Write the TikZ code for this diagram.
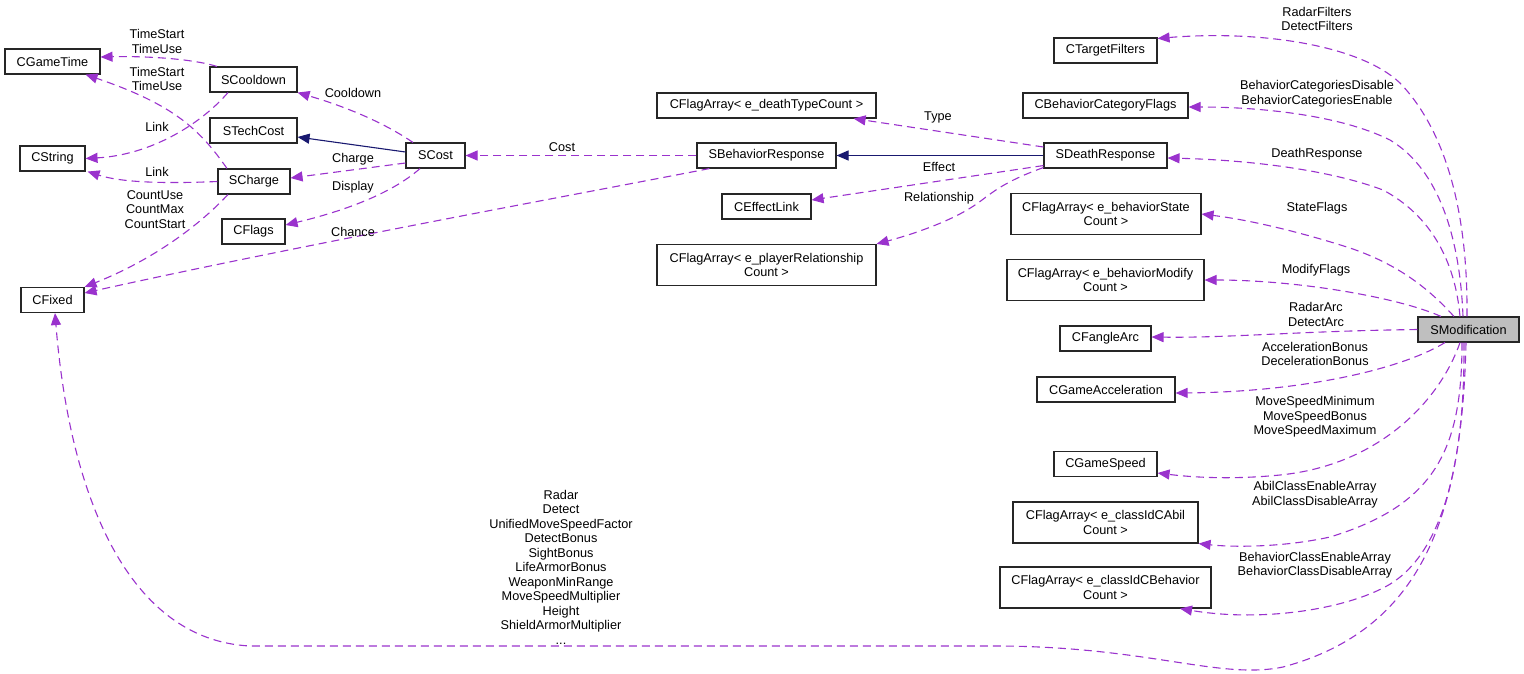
\documentclass[tikz,border=0pt]{standalone}
\usepackage{fontspec}
\setmainfont{Liberation Sans}
\usetikzlibrary{arrows.meta}
\definecolor{dorchid}{HTML}{9A32CD}
\definecolor{midblue}{HTML}{191970}
\newcommand{\dxfont}{\fontsize{12.7}{14.5}\selectfont}

\begin{document}
\begin{tikzpicture}[x=1pt, y=-1pt,
  cls/.style={draw=black!85, line width=1.1pt, minimum height=25pt, inner sep=1pt, align=center, font=\dxfont},
  cls2/.style={cls, minimum height=41pt},
  lbl/.style={inner sep=0pt, align=center, font=\dxfont},
  dep/.style={draw=dorchid, line width=1.1pt, dash pattern=on 8pt off 5pt, -{Triangle[length=12pt,width=10pt]}},
  inh/.style={draw=midblue, line width=1.1pt, -{Triangle[length=12pt,width=10pt]}}]
  \useasboundingbox (0,0) rectangle (1524,673);
  % left group
  \node[cls, minimum width=95pt] (gametime) at (52.5,61.5) {CGameTime};
  \node[cls, minimum width=65pt] (cstring) at (52.5,158.5) {CString};
  \node[cls, minimum width=63pt] (cfixed) at (52.5,300) {CFixed};
  \node[cls, minimum width=87pt] (cooldown) at (253.5,79.5) {SCooldown};
  \node[cls, minimum width=87pt] (techcost) at (253.5,130.5) {STechCost};
  \node[cls, minimum width=72pt] (charge) at (254,181.5) {SCharge};
  \node[cls, minimum width=63pt] (cflags) at (253.5,231.5) {CFlags};
  \node[cls, minimum width=59pt] (cost) at (435.5,155.5) {SCost};
  % middle group
  \node[cls, minimum width=219pt] (deathtype) at (766.5,105.5) {CFlagArray< e\_deathTypeCount >};
  \node[cls, minimum width=139pt] (behresp) at (766.5,155.5) {SBehaviorResponse};
  \node[cls, minimum width=89pt] (effectlink) at (766.5,206.5) {CEffectLink};
  \node[cls2, minimum width=219pt] (relationship) at (766.5,265) {CFlagArray< e\_playerRelationship\\Count >};
  % right column
  \node[cls, minimum width=103pt] (targetfilters) at (1105.5,50.5) {CTargetFilters};
  \node[cls, minimum width=165pt] (catflags) at (1105.5,105.5) {CBehaviorCategoryFlags};
  \node[cls, minimum width=123pt] (deathresp) at (1105.5,155.5) {SDeathResponse};
  \node[cls2, minimum width=190pt] (statearr) at (1106,214) {CFlagArray< e\_behaviorState\\Count >};
  \node[cls2, minimum width=197pt] (modifyarr) at (1105.5,280) {CFlagArray< e\_behaviorModify\\Count >};
  \node[cls, minimum width=91pt] (fanglearc) at (1105.5,338.5) {CFangleArc};
  \node[cls, minimum width=138pt] (gameaccel) at (1106,389.5) {CGameAcceleration};
  \node[cls, minimum width=103pt] (gamespeed) at (1105.5,464) {CGameSpeed};
  \node[cls2, minimum width=185pt] (abilarr) at (1105.5,522.5) {CFlagArray< e\_classIdCAbil\\Count >};
  \node[cls2, minimum width=211pt] (behavarr) at (1105.5,587.5) {CFlagArray< e\_classIdCBehavior\\Count >};
  \node[cls, minimum width=101pt, fill=black!25] (smod) at (1468.5,329.5) {SModification};

  % edges of the left group
  \draw[dep] ([xshift=-36.5pt]cooldown.north) .. controls (190,58) and (140,56) .. ([yshift=4.5pt]gametime.east);
  \draw[dep] ([xshift=-27pt]charge.north) .. controls (200,130) and (175,105) .. ([xshift=-15pt]gametime.south east);
  \draw[dep] ([xshift=-25.5pt]cooldown.south) .. controls (200,125) and (150,155) .. (cstring.east);
  \draw[dep] (charge.west) .. controls (160,184) and (120,182) .. ([xshift=2pt]cstring.south east);
  \draw[dep] ([xshift=-26pt]charge.south) .. controls (190,235) and (140,265) .. (cfixed.north east);
  \draw[dep] ([xshift=-22.5pt]cost.north) .. controls (380,120) and (340,105) .. (cooldown.south east);
  \draw[inh] ([yshift=3.5pt]cost.west) -- ([yshift=-6.5pt]techcost.east);
  \draw[dep] ([yshift=-7.5pt]cost.west) -- ([yshift=3.5pt]charge.east);
  \draw[dep] ([xshift=-15.5pt]cost.south) .. controls (390,195) and (340,212) .. ([yshift=6.5pt]cflags.east);
  \draw[dep] ([xshift=13pt]behresp.south west) .. controls (600,190) and (300,245) .. ([yshift=7pt]cfixed.east);
  \draw[dep] (behresp.west) -- (cost.east);
  % edges of the middle group
  \draw[inh] (deathresp.west) -- (behresp.east);
  \draw[dep] ([yshift=8.5pt]deathresp.west) -- ([xshift=-23pt]deathtype.south east);
  \draw[dep] ([yshift=3pt]deathresp.south west) -- ([yshift=6.5pt]effectlink.east);
  \draw[dep] ([yshift=1pt]deathresp.south west) .. controls (1000,183) and (990,195) .. (975,205)
    .. controls (950,222) and (910,235) .. (relationship.north east);
  % edges from SModification
  \draw[dep] ([xshift=-1.5pt]smod.north) .. controls (1468,210) and (1445,130) .. (1400,83)
    .. controls (1360,45) and (1260,30) .. ([yshift=-1pt]targetfilters.north east);
  \draw[dep] ([xshift=-5.5pt]smod.north) .. controls (1460,240) and (1440,170) .. (1390,140)
    .. controls (1340,115) and (1260,107) .. ([yshift=-1.5pt]catflags.east);
  \draw[dep] ([xshift=-8.5pt]smod.north) .. controls (1455,260) and (1430,215) .. (1383,190)
    .. controls (1330,170) and (1250,160) .. ([yshift=-2.5pt]deathresp.east);
  \draw[dep] ([xshift=-14.5pt]smod.north) .. controls (1430,290) and (1400,265) .. (1350,248)
    .. controls (1300,232) and (1250,220) .. (statearr.east);
  \draw[dep] ([xshift=-27.5pt]smod.north) .. controls (1400,298) and (1300,280) .. (modifyarr.east);
  \draw[dep] (smod.west) .. controls (1300,331) and (1230,338) .. ([yshift=1.5pt]fanglearc.east);
  \draw[dep] ([xshift=-23.5pt]smod.south) .. controls (1400,370) and (1300,392) .. ([yshift=-3.5pt]gameaccel.east);
  \draw[dep] ([xshift=-8.5pt]smod.south) .. controls (1440,400) and (1380,465) .. (1280,475)
    .. controls (1230,480) and (1190,477) .. ([yshift=-9pt]gamespeed.east);
  \draw[dep] ([xshift=-6.5pt]smod.south) .. controls (1462,450) and (1435,505) .. (1330,537)
    .. controls (1280,548) and (1230,547) .. (abilarr.south east);
  \draw[dep] ([xshift=-4.5pt]smod.south) .. controls (1465,470) and (1440,560) .. (1383,588)
    .. controls (1340,610) and (1260,622) .. ([xshift=74.5pt]behavarr.south);
  \draw[dep] ([xshift=-2.5pt]smod.south) .. controls (1462,520) and (1420,630) .. (1283,667)
    .. controls (1220,680) and (1150,647) .. (1000,646) -- (250,646)
    .. controls (130,640) and (70,500) .. ([xshift=2.5pt]cfixed.south);

  % edge labels
  \node[lbl] (ltime1) at (157,41.5) {TimeStart\\TimeUse};
  \node[lbl] (ltime2) at (157,79) {TimeStart\\TimeUse};
  \node[lbl] (llink1) at (157,127) {Link};
  \node[lbl] (llink2) at (157,172) {Link};
  \node[lbl] (lcount) at (155,209.5) {CountUse\\CountMax\\CountStart};
  \node[lbl] (lcool) at (353,93) {Cooldown};
  \node[lbl] (lcharge) at (353,159) {Charge};
  \node[lbl] (ldisplay) at (353,187) {Display};
  \node[lbl] (lchance) at (353,232) {Chance};
  \node[lbl] (lcost) at (562,147) {Cost};
  \node[lbl] (ltype) at (938,117) {Type};
  \node[lbl] (leffect) at (939,167) {Effect};
  \node[lbl] (lrel) at (939,198) {Relationship};
  \node[lbl] (lfilters) at (1317,19) {RadarFilters\\DetectFilters};
  \node[lbl] (lcat) at (1317,93.5) {BehaviorCategoriesDisable\\BehaviorCategoriesEnable};
  \node[lbl] (ldeath) at (1317,154) {DeathResponse};
  \node[lbl] (lstate) at (1317,208) {StateFlags};
  \node[lbl] (lmodify) at (1316,270) {ModifyFlags};
  \node[lbl] (larc) at (1316,314.5) {RadarArc\\DetectArc};
  \node[lbl] (laccel) at (1315,354) {AccelerationBonus\\DecelerationBonus};
  \node[lbl] (lspeed) at (1315,417) {MoveSpeedMinimum\\MoveSpeedBonus\\MoveSpeedMaximum};
  \node[lbl] (labil) at (1315,494.5) {AbilClassEnableArray\\AbilClassDisableArray};
  \node[lbl] (lbehav) at (1315,565) {BehaviorClassEnableArray\\BehaviorClassDisableArray};
  \node[lbl] (lfixed) at (561,567) {Radar\\Detect\\UnifiedMoveSpeedFactor\\DetectBonus\\SightBonus\\LifeArmorBonus\\WeaponMinRange\\MoveSpeedMultiplier\\Height\\ShieldArmorMultiplier\\...};
\end{tikzpicture}
\end{document}
